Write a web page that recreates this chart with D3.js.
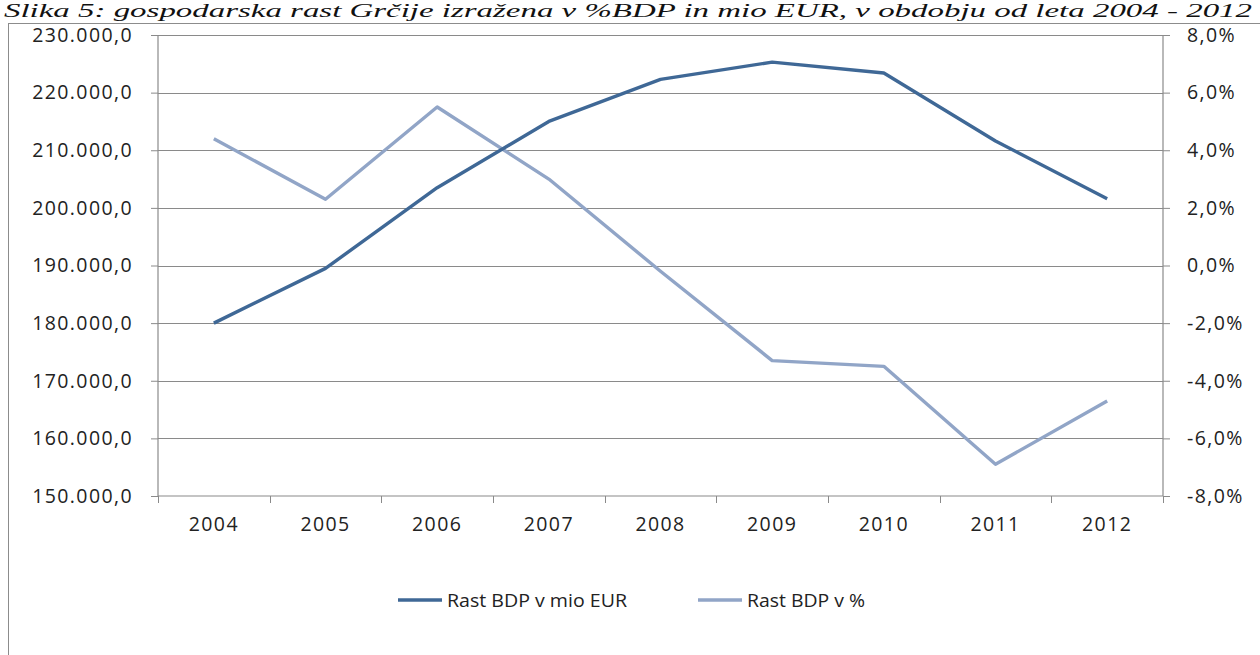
<!DOCTYPE html>
<html><head><meta charset="utf-8">
<script src="https://cdn.jsdelivr.net/npm/d3@7"></script>
<style>body{margin:0;background:#fff;} svg{display:block;}</style>
</head><body>
<script>
const years = ["2004","2005","2006","2007","2008","2009","2010","2011","2012"];
const gdpEUR = [180000, 189500, 203500, 215000, 222300, 225300, 223400, 211600, 201600];
const gdpPct = [4.4, 2.3, 5.5, 3.0, -0.2, -3.3, -3.5, -6.9, -4.7];
const leftTicks = [150000,160000,170000,180000,190000,200000,210000,220000,230000];
const rightTicks = [-8,-6,-4,-2,0,2,4,6,8];
const seriesNames = ["Rast BDP v mio EUR", "Rast BDP v %"];
const titleText = "Slika 5: gospodarska rast Grčije izražena v %BDP in mio EUR, v obdobju od leta 2004 - 2012";

const W = 1260, H = 655;
const svg = d3.select("body").append("svg").attr("width", W).attr("height", H);
const dark = "#3f6896", light = "#91a5c7";
const font = "'Open Sans', sans-serif";

// title
svg.append("text").attr("x", 4).attr("y", 17)
  .attr("font-family", "'Liberation Serif', serif").attr("font-style", "italic")
  .attr("font-size", 19).attr("fill", "#111").attr("textLength", 1248).attr("lengthAdjust","spacingAndGlyphs")
  .text(titleText);

// chart frame
svg.append("rect").attr("x", 8.5).attr("y", 23.5).attr("width", 1300).attr("height", 700)
  .attr("fill", "none").attr("stroke", "#8c8c8c").attr("stroke-width", 1);

const L = 158, R = 1163, T = 35, B = 496;
const x = d3.scaleBand().domain(years).range([L, R]).padding(0);
const yL = d3.scaleLinear().domain([150000, 230000]).range([B, T]);
const yR = d3.scaleLinear().domain([-8, 8]).range([B, T]);

// gridlines
svg.append("g").selectAll("line").data(leftTicks.slice(1)).join("line")
  .attr("x1", L).attr("x2", R).attr("y1", d => Math.round(yL(d)) + 0.5).attr("y2", d => Math.round(yL(d)) + 0.5)
  .attr("stroke", "#8a8a8a").attr("stroke-width", 1.2);

const fmtL = d => d3.format(",.1f")(d).replace(/,/g, "X").replace(/\./g, ",").replace(/X/g, ".");
const fmtR = d => d.toFixed(1).replace(".", ",") + "%";

const gL = svg.append("g").attr("transform", `translate(${L},0)`)
  .call(d3.axisLeft(yL).tickValues(leftTicks).tickFormat(fmtL).tickSize(7).tickPadding(18));
const gR = svg.append("g").attr("transform", `translate(${R},0)`)
  .call(d3.axisRight(yR).tickValues(rightTicks).tickFormat(fmtR).tickSize(7).tickPadding(17));
const gB = svg.append("g").attr("transform", `translate(0,${B})`)
  .call(d3.axisBottom(x).tickSize(0).tickPadding(21));
svg.append("g").selectAll("line").data(years.concat(["end"])).join("line")
  .attr("x1", (d, i) => Math.round(L + i * x.bandwidth()) + 0.5)
  .attr("x2", (d, i) => Math.round(L + i * x.bandwidth()) + 0.5)
  .attr("y1", B).attr("y2", B + 7).attr("stroke", "#8a8a8a");

[gL, gR, gB].forEach(g => {
  g.selectAll(".domain").attr("stroke", "#8a8a8a").attr("stroke-width", 1.2);
  g.selectAll(".tick line").attr("stroke", "#8a8a8a");
  g.selectAll("text").attr("font-family", font).attr("font-size", 19.5)
    .attr("letter-spacing", 1.4).attr("fill", "#222");
});
gL.select(".domain").attr("d", `M0,${T}V${B}`);
gR.select(".domain").attr("d", `M0,${T}V${B}`);
gB.select(".domain").attr("d", `M${L},0H${R}`);

const lineL = d3.line().x((d, i) => x(years[i]) + x.bandwidth() / 2).y(d => yL(d));
const lineR = d3.line().x((d, i) => x(years[i]) + x.bandwidth() / 2).y(d => yR(d));
svg.append("path").datum(gdpPct).attr("d", lineR).attr("fill", "none")
  .attr("stroke", light).attr("stroke-width", 3.4).attr("stroke-linejoin", "round");
svg.append("path").datum(gdpEUR).attr("d", lineL).attr("fill", "none")
  .attr("stroke", dark).attr("stroke-width", 3.4).attr("stroke-linejoin", "round");

// legend
const legend = [
  {name: seriesNames[0], color: dark, x: 398, w: 180},
  {name: seriesNames[1], color: light, x: 698, w: 118}
];
const lg = svg.append("g").selectAll("g").data(legend).join("g")
  .attr("transform", d => `translate(${d.x},600)`);
lg.append("line").attr("x1", 0).attr("x2", 44).attr("y1", 0).attr("y2", 0)
  .attr("stroke", d => d.color).attr("stroke-width", 3.6);
lg.append("text").attr("x", 49).attr("y", 7).attr("font-family", font).attr("font-size", 19)
  .attr("fill", "#222").attr("textLength", d => d.w).attr("lengthAdjust", "spacingAndGlyphs")
  .text(d => d.name);
</script>
</body></html>
